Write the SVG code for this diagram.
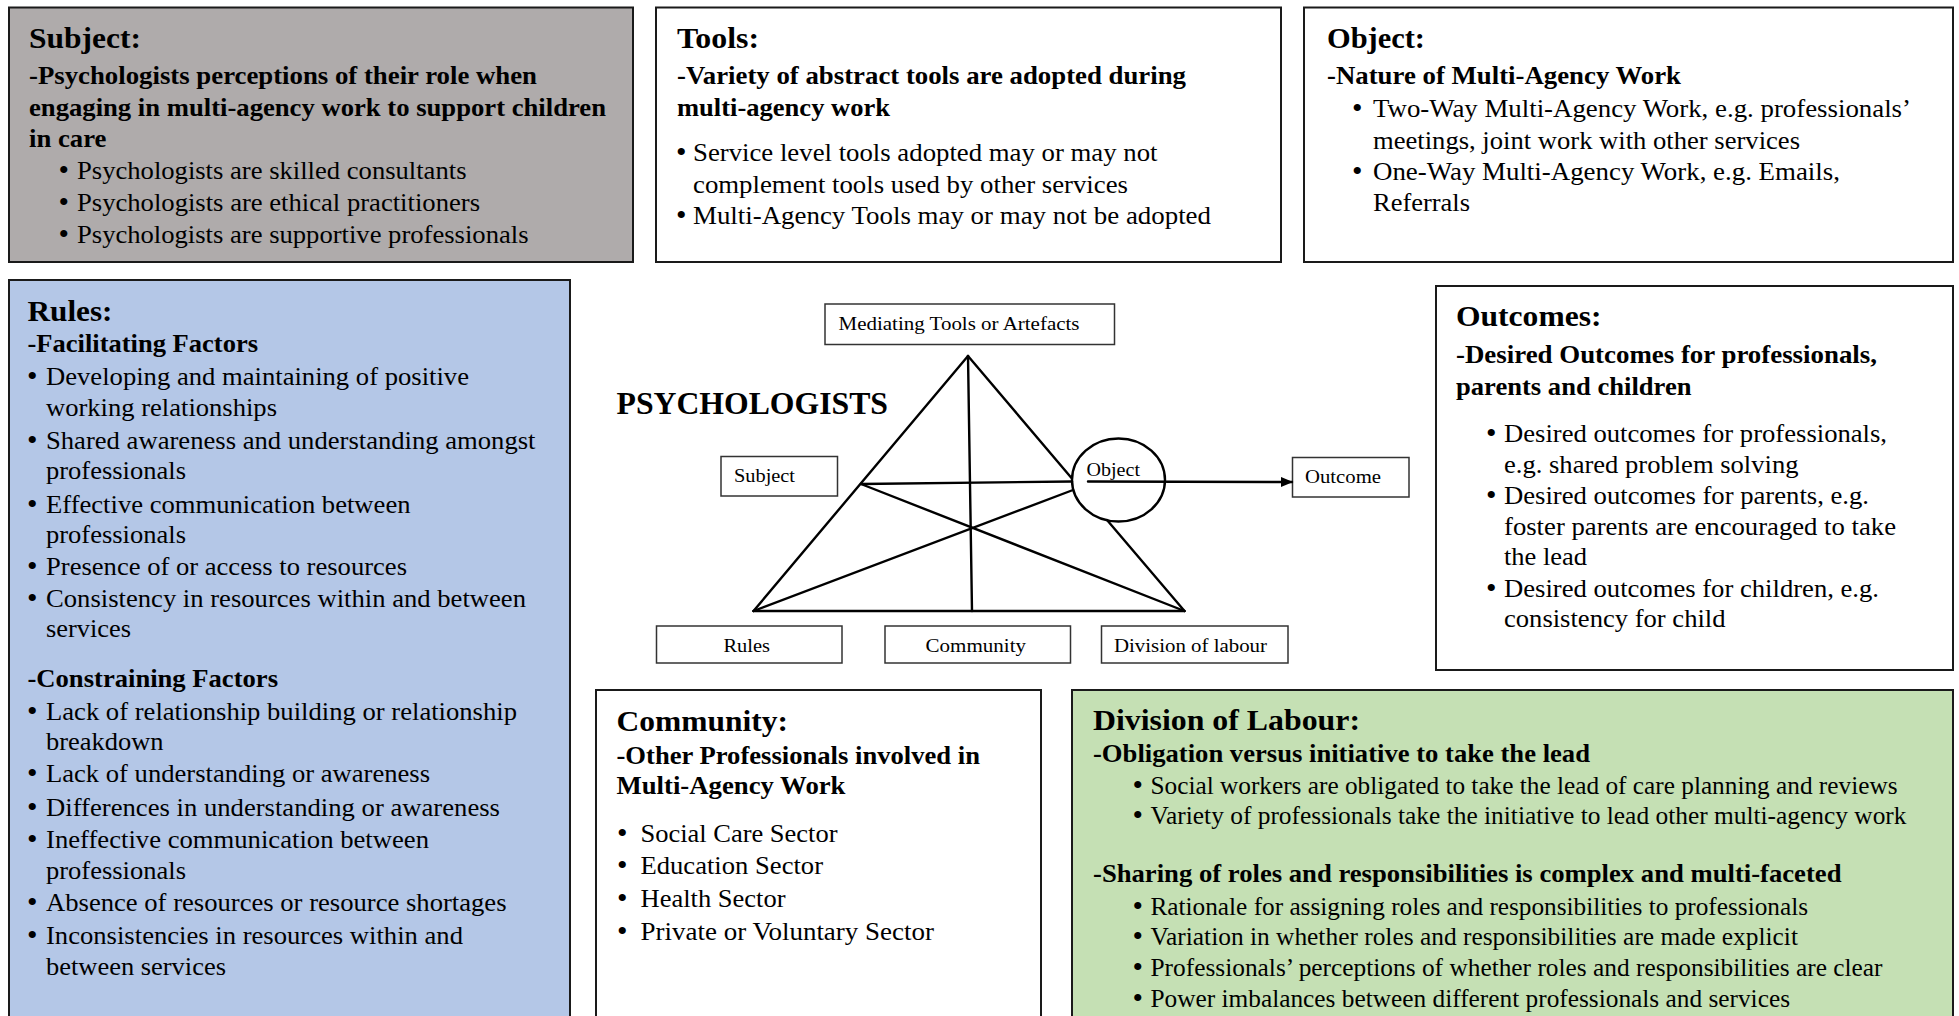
<svg xmlns="http://www.w3.org/2000/svg" width="1959" height="1016" viewBox="0 0 1959 1016">
  <style>
    text { font-family: "Liberation Serif", "Times New Roman", serif; fill: #000; }
    .box { stroke: #1a1a1a; stroke-width: 2; }
    .plain { fill: #fff; }
    .grey { fill: #afabab; }
    .blue { fill: #b4c7e7; }
    .green { fill: #c5e0b4; }
    .h { font-size: 30px; font-weight: bold; }
    .b { font-size: 26px; font-weight: bold; }
    .t { font-size: 26px; }
    .tr { font-size: 25.5px; }
    .br { font-size: 25px; font-weight: bold; }
    .td { font-size: 25.5px; }
    .bd { font-size: 26px; font-weight: bold; }
    .dot { font-size: 30px; }
    .lbl { font-size: 19.5px; }
    .ttl { font-size: 32px; font-weight: bold; }
    .small { fill: #fff; stroke: #333; stroke-width: 1.5; }
    .ln { stroke: #000; stroke-width: 2.4; fill: none; stroke-linecap: round; }
  </style>
  <defs>
    <marker id="arrowhead" markerUnits="userSpaceOnUse" markerWidth="12" markerHeight="10" refX="11" refY="5" orient="auto">
      <path d="M0,0 L12,5 L0,10 Z" fill="#000"/>
    </marker>
  </defs>

  <rect width="1959" height="1016" fill="#fff"/>

  <!-- Subject panel -->
  <g id="subject-panel">
    <rect class="box grey" x="9" y="7.5" width="624" height="254.5"/>
    <text class="h" x="29" y="48" textLength="112" lengthAdjust="spacingAndGlyphs">Subject:</text>
    <text class="b" x="29" y="84" textLength="508" lengthAdjust="spacingAndGlyphs">-Psychologists perceptions of their role when</text>
    <text class="b" x="29" y="115.5" textLength="577" lengthAdjust="spacingAndGlyphs">engaging in multi-agency work to support children</text>
    <text class="b" x="29" y="146.5" textLength="77.5" lengthAdjust="spacingAndGlyphs">in care</text>
    <text class="dot" x="58.5" y="180">•</text>
    <text class="t" x="77" y="179" textLength="389.5" lengthAdjust="spacingAndGlyphs">Psychologists are skilled consultants</text>
    <text class="dot" x="58.5" y="212">•</text>
    <text class="t" x="77" y="211" textLength="403" lengthAdjust="spacingAndGlyphs">Psychologists are ethical practitioners</text>
    <text class="dot" x="58.5" y="244">•</text>
    <text class="t" x="77" y="243" textLength="451.5" lengthAdjust="spacingAndGlyphs">Psychologists are supportive professionals</text>
  </g>

  <!-- Tools panel -->
  <g id="tools-panel">
    <rect class="box plain" x="656" y="7.5" width="625" height="254.5"/>
    <text class="h" x="677" y="48" textLength="82" lengthAdjust="spacingAndGlyphs">Tools:</text>
    <text class="b" x="677" y="84" textLength="509" lengthAdjust="spacingAndGlyphs">-Variety of abstract tools are adopted during</text>
    <text class="b" x="677" y="115.5" textLength="213" lengthAdjust="spacingAndGlyphs">multi-agency work</text>
    <text class="dot" x="676" y="162">•</text>
    <text class="t" x="693" y="161" textLength="464.5" lengthAdjust="spacingAndGlyphs">Service level tools adopted may or may not</text>
    <text class="t" x="693" y="193" textLength="435" lengthAdjust="spacingAndGlyphs">complement tools used by other services</text>
    <text class="dot" x="676" y="224.5">•</text>
    <text class="t" x="693" y="223.5" textLength="518" lengthAdjust="spacingAndGlyphs">Multi-Agency Tools may or may not be adopted</text>
  </g>

  <!-- Object panel -->
  <g id="object-panel">
    <rect class="box plain" x="1304" y="7.5" width="649" height="254.5"/>
    <text class="h" x="1327" y="48" textLength="98" lengthAdjust="spacingAndGlyphs">Object:</text>
    <text class="b" x="1327" y="84" textLength="354" lengthAdjust="spacingAndGlyphs">-Nature of Multi-Agency Work</text>
    <text class="dot" x="1352" y="118">•</text>
    <text class="t" x="1373" y="117" textLength="538" lengthAdjust="spacingAndGlyphs">Two-Way Multi-Agency Work, e.g. professionals’</text>
    <text class="t" x="1373" y="148.5" textLength="427" lengthAdjust="spacingAndGlyphs">meetings, joint work with other services</text>
    <text class="dot" x="1352" y="181">•</text>
    <text class="t" x="1373" y="180" textLength="467" lengthAdjust="spacingAndGlyphs">One-Way Multi-Agency Work, e.g. Emails,</text>
    <text class="t" x="1373" y="211" textLength="97" lengthAdjust="spacingAndGlyphs">Referrals</text>
  </g>

  <!-- Rules panel -->
  <g id="rules-panel">
    <rect class="box blue" x="9" y="280" width="561" height="760"/>
    <text class="h" x="27.5" y="320.5" textLength="85" lengthAdjust="spacingAndGlyphs">Rules:</text>
    <text class="br" x="27.5" y="352" textLength="230.5" lengthAdjust="spacingAndGlyphs">-Facilitating Factors</text>
    <text class="dot" x="27" y="386">•</text>
    <text class="tr" x="46" y="385" textLength="423" lengthAdjust="spacingAndGlyphs">Developing and maintaining of positive</text>
    <text class="tr" x="46" y="416" textLength="231" lengthAdjust="spacingAndGlyphs">working relationships</text>
    <text class="dot" x="27" y="449.5">•</text>
    <text class="tr" x="46" y="448.5" textLength="489.5" lengthAdjust="spacingAndGlyphs">Shared awareness and understanding amongst</text>
    <text class="tr" x="46" y="479" textLength="140" lengthAdjust="spacingAndGlyphs">professionals</text>
    <text class="dot" x="27" y="513.5">•</text>
    <text class="tr" x="46" y="512.5" textLength="364.5" lengthAdjust="spacingAndGlyphs">Effective communication between</text>
    <text class="tr" x="46" y="542.5" textLength="140" lengthAdjust="spacingAndGlyphs">professionals</text>
    <text class="dot" x="27" y="576">•</text>
    <text class="tr" x="46" y="575" textLength="361" lengthAdjust="spacingAndGlyphs">Presence of or access to resources</text>
    <text class="dot" x="27" y="608">•</text>
    <text class="tr" x="46" y="607" textLength="480" lengthAdjust="spacingAndGlyphs">Consistency in resources within and between</text>
    <text class="tr" x="46" y="637" textLength="85" lengthAdjust="spacingAndGlyphs">services</text>

    <text class="br" x="27.5" y="687" textLength="250.5" lengthAdjust="spacingAndGlyphs">-Constraining Factors</text>
    <text class="dot" x="27" y="721">•</text>
    <text class="tr" x="46" y="720" textLength="471" lengthAdjust="spacingAndGlyphs">Lack of relationship building or relationship</text>
    <text class="tr" x="46" y="750" textLength="117.5" lengthAdjust="spacingAndGlyphs">breakdown</text>
    <text class="dot" x="27" y="783">•</text>
    <text class="tr" x="46" y="782" textLength="384" lengthAdjust="spacingAndGlyphs">Lack of understanding or awareness</text>
    <text class="dot" x="27" y="816.5">•</text>
    <text class="tr" x="46" y="815.5" textLength="454" lengthAdjust="spacingAndGlyphs">Differences in understanding or awareness</text>
    <text class="dot" x="27" y="849">•</text>
    <text class="tr" x="46" y="848" textLength="383" lengthAdjust="spacingAndGlyphs">Ineffective communication between</text>
    <text class="tr" x="46" y="878.5" textLength="140" lengthAdjust="spacingAndGlyphs">professionals</text>
    <text class="dot" x="27" y="912">•</text>
    <text class="tr" x="46" y="911" textLength="460.5" lengthAdjust="spacingAndGlyphs">Absence of resources or resource shortages</text>
    <text class="dot" x="27" y="944.5">•</text>
    <text class="tr" x="46" y="943.5" textLength="417" lengthAdjust="spacingAndGlyphs">Inconsistencies in resources within and</text>
    <text class="tr" x="46" y="974.5" textLength="180" lengthAdjust="spacingAndGlyphs">between services</text>
  </g>

  <!-- Outcomes panel -->
  <g id="outcomes-panel">
    <rect class="box plain" x="1436" y="286" width="517" height="384"/>
    <text class="h" x="1456" y="326" textLength="145.5" lengthAdjust="spacingAndGlyphs">Outcomes:</text>
    <text class="br" x="1456" y="363" textLength="421" lengthAdjust="spacingAndGlyphs">-Desired Outcomes for professionals,</text>
    <text class="br" x="1456" y="395" textLength="235.5" lengthAdjust="spacingAndGlyphs">parents and children</text>
    <text class="dot" x="1486" y="443">•</text>
    <text class="tr" x="1504" y="442" textLength="383" lengthAdjust="spacingAndGlyphs">Desired outcomes for professionals,</text>
    <text class="tr" x="1504" y="473" textLength="294.5" lengthAdjust="spacingAndGlyphs">e.g. shared problem solving</text>
    <text class="dot" x="1486" y="505">•</text>
    <text class="tr" x="1504" y="504" textLength="365" lengthAdjust="spacingAndGlyphs">Desired outcomes for parents, e.g.</text>
    <text class="tr" x="1504" y="534.5" textLength="392" lengthAdjust="spacingAndGlyphs">foster parents are encouraged to take</text>
    <text class="tr" x="1504" y="565" textLength="83" lengthAdjust="spacingAndGlyphs">the lead</text>
    <text class="dot" x="1486" y="597.5">•</text>
    <text class="tr" x="1504" y="596.5" textLength="375" lengthAdjust="spacingAndGlyphs">Desired outcomes for children, e.g.</text>
    <text class="tr" x="1504" y="627" textLength="221.5" lengthAdjust="spacingAndGlyphs">consistency for child</text>
  </g>

  <!-- Community panel -->
  <g id="community-panel">
    <rect class="box plain" x="596" y="690" width="445" height="350"/>
    <text class="h" x="616.5" y="731" textLength="171.5" lengthAdjust="spacingAndGlyphs">Community:</text>
    <text class="br" x="616.5" y="763.5" textLength="363.5" lengthAdjust="spacingAndGlyphs">-Other Professionals involved in</text>
    <text class="br" x="616.5" y="793.5" textLength="229" lengthAdjust="spacingAndGlyphs">Multi-Agency Work</text>
    <text class="dot" x="617" y="842.5">•</text>
    <text class="tr" x="640.5" y="841.5" textLength="197" lengthAdjust="spacingAndGlyphs">Social Care Sector</text>
    <text class="dot" x="617" y="875">•</text>
    <text class="tr" x="640.5" y="874" textLength="182.5" lengthAdjust="spacingAndGlyphs">Education Sector</text>
    <text class="dot" x="617" y="907.5">•</text>
    <text class="tr" x="640.5" y="906.5" textLength="145" lengthAdjust="spacingAndGlyphs">Health Sector</text>
    <text class="dot" x="617" y="940.5">•</text>
    <text class="tr" x="640.5" y="939.5" textLength="293.5" lengthAdjust="spacingAndGlyphs">Private or Voluntary Sector</text>
  </g>

  <!-- Division of Labour panel -->
  <g id="division-panel">
    <rect class="box green" x="1072" y="690" width="881" height="350"/>
    <text class="h" x="1093" y="729.5" textLength="267" lengthAdjust="spacingAndGlyphs">Division of Labour:</text>
    <text class="bd" x="1093" y="762" textLength="497" lengthAdjust="spacingAndGlyphs">-Obligation versus initiative to take the lead</text>
    <text class="dot" x="1132.5" y="795">•</text>
    <text class="td" x="1150.5" y="794" textLength="747" lengthAdjust="spacingAndGlyphs">Social workers are obligated to take the lead of care planning and reviews</text>
    <text class="dot" x="1132.5" y="825">•</text>
    <text class="td" x="1150.5" y="824" textLength="756" lengthAdjust="spacingAndGlyphs">Variety of professionals take the initiative to lead other multi-agency work</text>
    <text class="bd" x="1093" y="882" textLength="748.5" lengthAdjust="spacingAndGlyphs">-Sharing of roles and responsibilities is complex and multi-faceted</text>
    <text class="dot" x="1132.5" y="915.5">•</text>
    <text class="td" x="1150.5" y="914.5" textLength="657.5" lengthAdjust="spacingAndGlyphs">Rationale for assigning roles and responsibilities to professionals</text>
    <text class="dot" x="1132.5" y="946">•</text>
    <text class="td" x="1150.5" y="945" textLength="647.5" lengthAdjust="spacingAndGlyphs">Variation in whether roles and responsibilities are made explicit</text>
    <text class="dot" x="1132.5" y="977">•</text>
    <text class="td" x="1150.5" y="976" textLength="732" lengthAdjust="spacingAndGlyphs">Professionals’ perceptions of whether roles and responsibilities are clear</text>
    <text class="dot" x="1132.5" y="1007.5">•</text>
    <text class="td" x="1150.5" y="1006.5" textLength="639.5" lengthAdjust="spacingAndGlyphs">Power imbalances between different professionals and services</text>
  </g>

  <!-- Activity triangle: title and labels -->
  <g id="title">
    <text class="ttl" x="616.5" y="413.5" textLength="271.5" lengthAdjust="spacingAndGlyphs">PSYCHOLOGISTS</text>
  </g>
  <g id="node-tools">
    <rect class="small" x="825" y="304" width="289.5" height="40.5"/>
    <text class="lbl" x="838.5" y="330" textLength="241" lengthAdjust="spacingAndGlyphs">Mediating Tools or Artefacts</text>
  </g>
  <g id="node-subject">
    <rect class="small" x="721" y="456.5" width="116.5" height="39.5"/>
    <text class="lbl" x="734" y="482" textLength="61" lengthAdjust="spacingAndGlyphs">Subject</text>
  </g>
  <g id="node-object">
    <ellipse cx="1118.5" cy="480" rx="46.5" ry="41.5" fill="#fff" stroke="#000" stroke-width="2.4"/>
    <text class="lbl" x="1086.5" y="476" textLength="53.5" lengthAdjust="spacingAndGlyphs">Object</text>
  </g>
  <g id="node-outcome">
    <rect class="small" x="1292.5" y="457.5" width="116.5" height="39.5"/>
    <text class="lbl" x="1305" y="483" textLength="76" lengthAdjust="spacingAndGlyphs">Outcome</text>
  </g>
  <g id="node-rules">
    <rect class="small" x="656.5" y="626" width="185.5" height="37"/>
    <text class="lbl" x="723.5" y="651.5" textLength="46.5" lengthAdjust="spacingAndGlyphs">Rules</text>
  </g>
  <g id="node-community">
    <rect class="small" x="885" y="626" width="185.5" height="37"/>
    <text class="lbl" x="925.5" y="651.5" textLength="100.5" lengthAdjust="spacingAndGlyphs">Community</text>
  </g>
  <g id="node-division">
    <rect class="small" x="1101.5" y="626" width="186.5" height="37"/>
    <text class="lbl" x="1114" y="651.5" textLength="153" lengthAdjust="spacingAndGlyphs">Division of labour</text>
  </g>

  <!-- Triangle edges, inner links and the object-to-outcome arrow -->
  <g id="connectors">
    <line class="ln" x1="968" y1="356" x2="753.5" y2="611"/>
    <line class="ln" x1="968" y1="356" x2="1071.5" y2="478"/>
    <line class="ln" x1="1107" y1="520" x2="1184.5" y2="611"/>
    <line class="ln" x1="753.5" y1="611" x2="1184.5" y2="611" stroke-width="3.2"/>
    <line class="ln" x1="968" y1="356" x2="972" y2="611"/>
    <line class="ln" x1="861" y1="484" x2="1072" y2="481.5"/>
    <line class="ln" x1="861" y1="484" x2="1184.5" y2="611"/>
    <line class="ln" x1="753.5" y1="611" x2="1073" y2="490"/>
    <line class="ln" x1="1088" y1="481.5" x2="1292" y2="482" marker-end="url(#arrowhead)"/>
  </g>
</svg>
